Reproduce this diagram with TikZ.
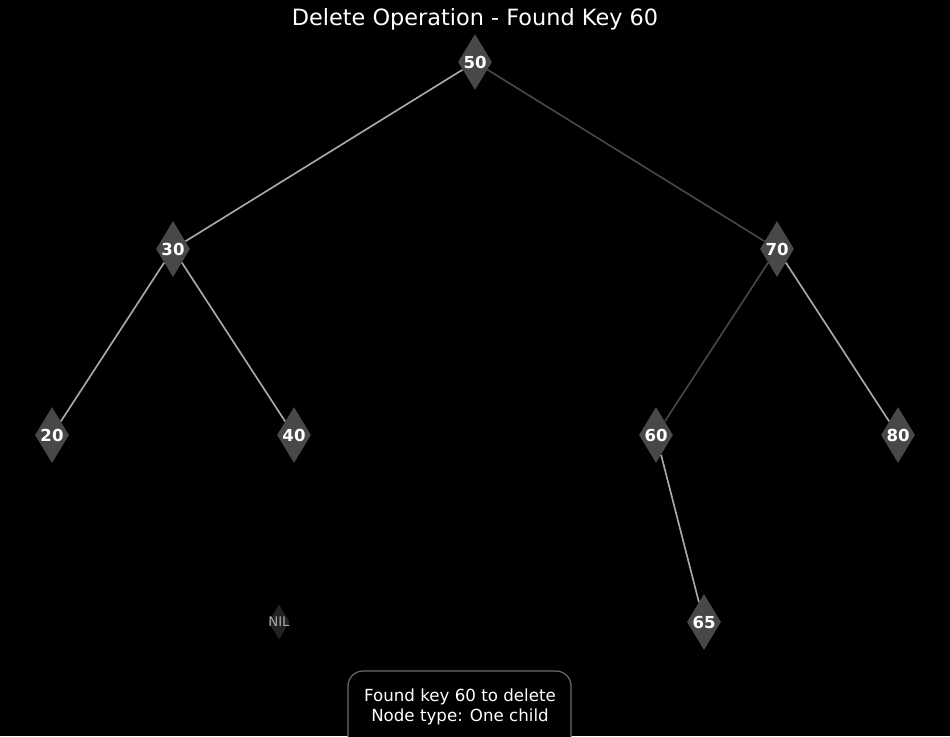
\documentclass[tikz,border=0pt]{standalone}
\usepackage{fontspec}
\setmainfont{DejaVu Sans}
\usetikzlibrary{shapes.geometric}
\definecolor{nodefill}{HTML}{484848}
\definecolor{nilfill}{HTML}{222222}
\definecolor{edgelight}{HTML}{A8A8A8}
\definecolor{edgedark}{HTML}{464646}
\definecolor{boxedge}{HTML}{6A6A6A}
\tikzset{
  treenode/.style={diamond, fill=nodefill, draw=none, inner sep=0pt,
    minimum width=34*0.75pt, minimum height=56*0.75pt, shape aspect=0.607,
    text=white, font=\bfseries\fontsize{12.4pt}{14pt}\selectfont},
  nilnode/.style={diamond, fill=nilfill, draw=none, inner sep=0pt,
    minimum width=21*0.75pt, minimum height=35*0.75pt, shape aspect=0.6},
  nillabel/.style={text=edgelight, inner sep=0pt, font=\fontsize{10pt}{11pt}\selectfont},
  lightedge/.style={draw=edgelight, line width=1.25pt},
  darkedge/.style={draw=edgedark, line width=1.25pt},
}
\begin{document}
\begin{tikzpicture}[x=0.75pt,y=-0.75pt]
\fill[black] (0,0) rectangle (950,736);
\useasboundingbox (0,0) rectangle (950,736);
\node[text=white, font=\fontsize{16.8pt}{19pt}\selectfont] (title) at (475,19) {Delete Operation - Found Key 60};
\node[treenode] (n50) at (475,62) {50};
\node[treenode] (n30) at (173,249) {30};
\node[treenode] (n70) at (777,249) {70};
\node[treenode] (n20) at (52,435) {20};
\node[treenode] (n40) at (294,435) {40};
\node[treenode] (n60) at (656,435) {60};
\node[treenode] (n80) at (898,435) {80};
\node[treenode] (n65) at (704,622) {65};
\node[nilnode, label={[nillabel]center:NIL}] (nil) at (279,622) {};
\draw[lightedge] (n50) -- (n30);
\draw[darkedge] (n50) -- (n70);
\draw[lightedge] (n30) -- (n20);
\draw[lightedge] (n30) -- (n40);
\draw[darkedge] (n70) -- (n60);
\draw[lightedge] (n70) -- (n80);
\draw[lightedge] (n60) -- (n65);
\draw[draw=boxedge, line width=0.9pt, rounded corners=15*0.75pt, fill=black] (348,671) rectangle (571,760);
\node[text=white, align=center, font=\fontsize{12.5pt}{15pt}\selectfont] (info) at (460,707) {Found key 60 to delete\\Node type: One child};
\end{tikzpicture}
\end{document}
